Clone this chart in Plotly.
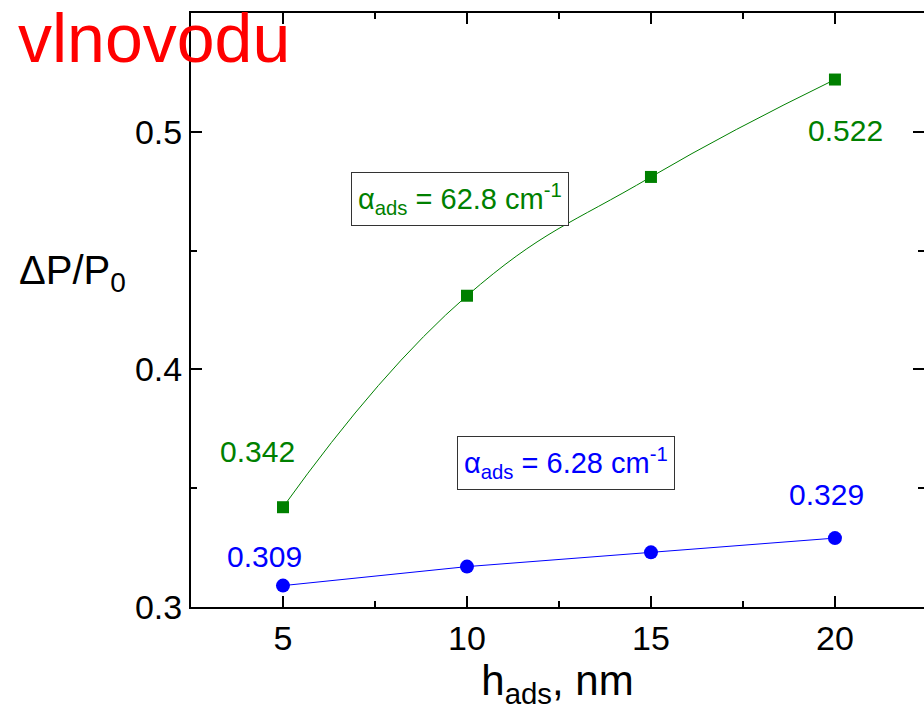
import plotly.graph_objects as go

# Relative power change vs. adsorbed-layer thickness for two absorption coefficients
h_ads = [5, 10, 15, 20]                      # nm
dp_high = [0.342, 0.431, 0.481, 0.522]       # alpha_ads = 62.8 cm^-1
dp_low = [0.309, 0.317, 0.323, 0.329]        # alpha_ads = 6.28 cm^-1

x_ticks = [5, 10, 15, 20]
y_ticks = [0.3, 0.4, 0.5]

GREEN = "#008000"
BLUE = "#0000FF"
FONT = "Liberation Sans, Arial, sans-serif"

fig = go.Figure()

fig.add_trace(go.Scatter(
    x=h_ads, y=dp_high, mode="lines+markers",
    line=dict(color=GREEN, width=1, shape="spline", smoothing=1.3),
    marker=dict(symbol="square", size=12, color=GREEN),
    showlegend=False, hoverinfo="x+y",
))
fig.add_trace(go.Scatter(
    x=h_ads, y=dp_low, mode="lines+markers",
    line=dict(color=BLUE, width=1),
    marker=dict(symbol="circle", size=14, color=BLUE),
    showlegend=False, hoverinfo="x+y",
))
# empty trace that carries the right-hand tick axis
fig.add_trace(go.Scatter(x=[None], y=[None], yaxis="y2",
                         showlegend=False, hoverinfo="skip"))

tick_common = dict(
    ticks="inside", ticklen=11, tickwidth=2, tickcolor="black",
    showgrid=False, zeroline=False,
)

annotations = [
    # heading in the upper-left corner
    dict(text="vlnovodu", xref="paper", yref="paper",
         x=-0.2374, y=1.0236, xanchor="left", yanchor="top",
         showarrow=False, borderpad=0,
         font=dict(family=FONT, size=68, color="#FF0000")),
    # horizontal y-axis title
    dict(text="ΔP/P<sub>0</sub>", xref="paper", yref="paper",
         x=-0.238, y=0.563, xanchor="left", yanchor="middle",
         showarrow=False, font=dict(family=FONT, size=40, color="black")),
    # boxed labels for the two curves
    dict(text="α<sub>ads</sub> = 62.8 cm<sup>-1</sup>", xref="x", yref="y",
         x=9.80, y=0.4716, xanchor="center", yanchor="middle",
         showarrow=False, bordercolor="#333333", borderwidth=1, borderpad=6,
         bgcolor="white", font=dict(family=FONT, size=29, color=GREEN)),
    dict(text="α<sub>ads</sub> = 6.28 cm<sup>-1</sup>", xref="x", yref="y",
         x=12.69, y=0.3606, xanchor="center", yanchor="middle",
         showarrow=False, bordercolor="#333333", borderwidth=1, borderpad=6,
         bgcolor="white", font=dict(family=FONT, size=29, color=BLUE)),
]

# end-point value labels
end_labels = [
    (h_ads[0], dp_high[0], GREEN, -25, 56),
    (h_ads[-1], dp_high[-1], GREEN, 11, -51),
    (h_ads[0], dp_low[0], BLUE, -18, 29),
    (h_ads[-1], dp_low[-1], BLUE, -8, 44),
]
for xv, yv, col, dx, dy in end_labels:
    annotations.append(dict(
        text=f"{yv:.3f}", x=xv, y=yv, xref="x", yref="y",
        xshift=dx, yshift=dy, showarrow=False,
        xanchor="center", yanchor="middle",
        font=dict(family=FONT, size=30, color=col),
    ))

fig.update_layout(
    width=924, height=712,
    margin=dict(l=191, r=0, t=13, b=105, pad=0),
    paper_bgcolor="white", plot_bgcolor="white",
    font=dict(family=FONT, color="black"),
    xaxis=dict(
        range=[2.5, 22.42], tickvals=x_ticks,
        showline=True, linewidth=2, linecolor="black", mirror="ticks",
        minor=dict(dtick=2.5, tick0=0, ticks="inside", ticklen=6,
                   tickwidth=2, tickcolor="black"),
        tickfont=dict(size=34, family=FONT),
        title=dict(text="h<sub>ads</sub>, nm",
                   font=dict(size=42, family=FONT), standoff=4),
        **tick_common,
    ),
    yaxis=dict(
        range=[0.3, 0.55], tickvals=y_ticks, tickformat=".1f",
        showline=True, linewidth=2, linecolor="black", mirror=False,
        minor=dict(dtick=0.05, tick0=0, ticks="inside", ticklen=6,
                   tickwidth=2, tickcolor="black"),
        tickfont=dict(size=34, family=FONT),
        **tick_common,
    ),
    yaxis2=dict(
        range=[0.3, 0.55], tickvals=y_ticks, overlaying="y", side="right",
        showline=False, showticklabels=False,
        minor=dict(dtick=0.05, tick0=0, ticks="inside", ticklen=6,
                   tickwidth=2, tickcolor="black"),
        **tick_common,
    ),
    annotations=annotations,
)

fig.write_html("out.html")
